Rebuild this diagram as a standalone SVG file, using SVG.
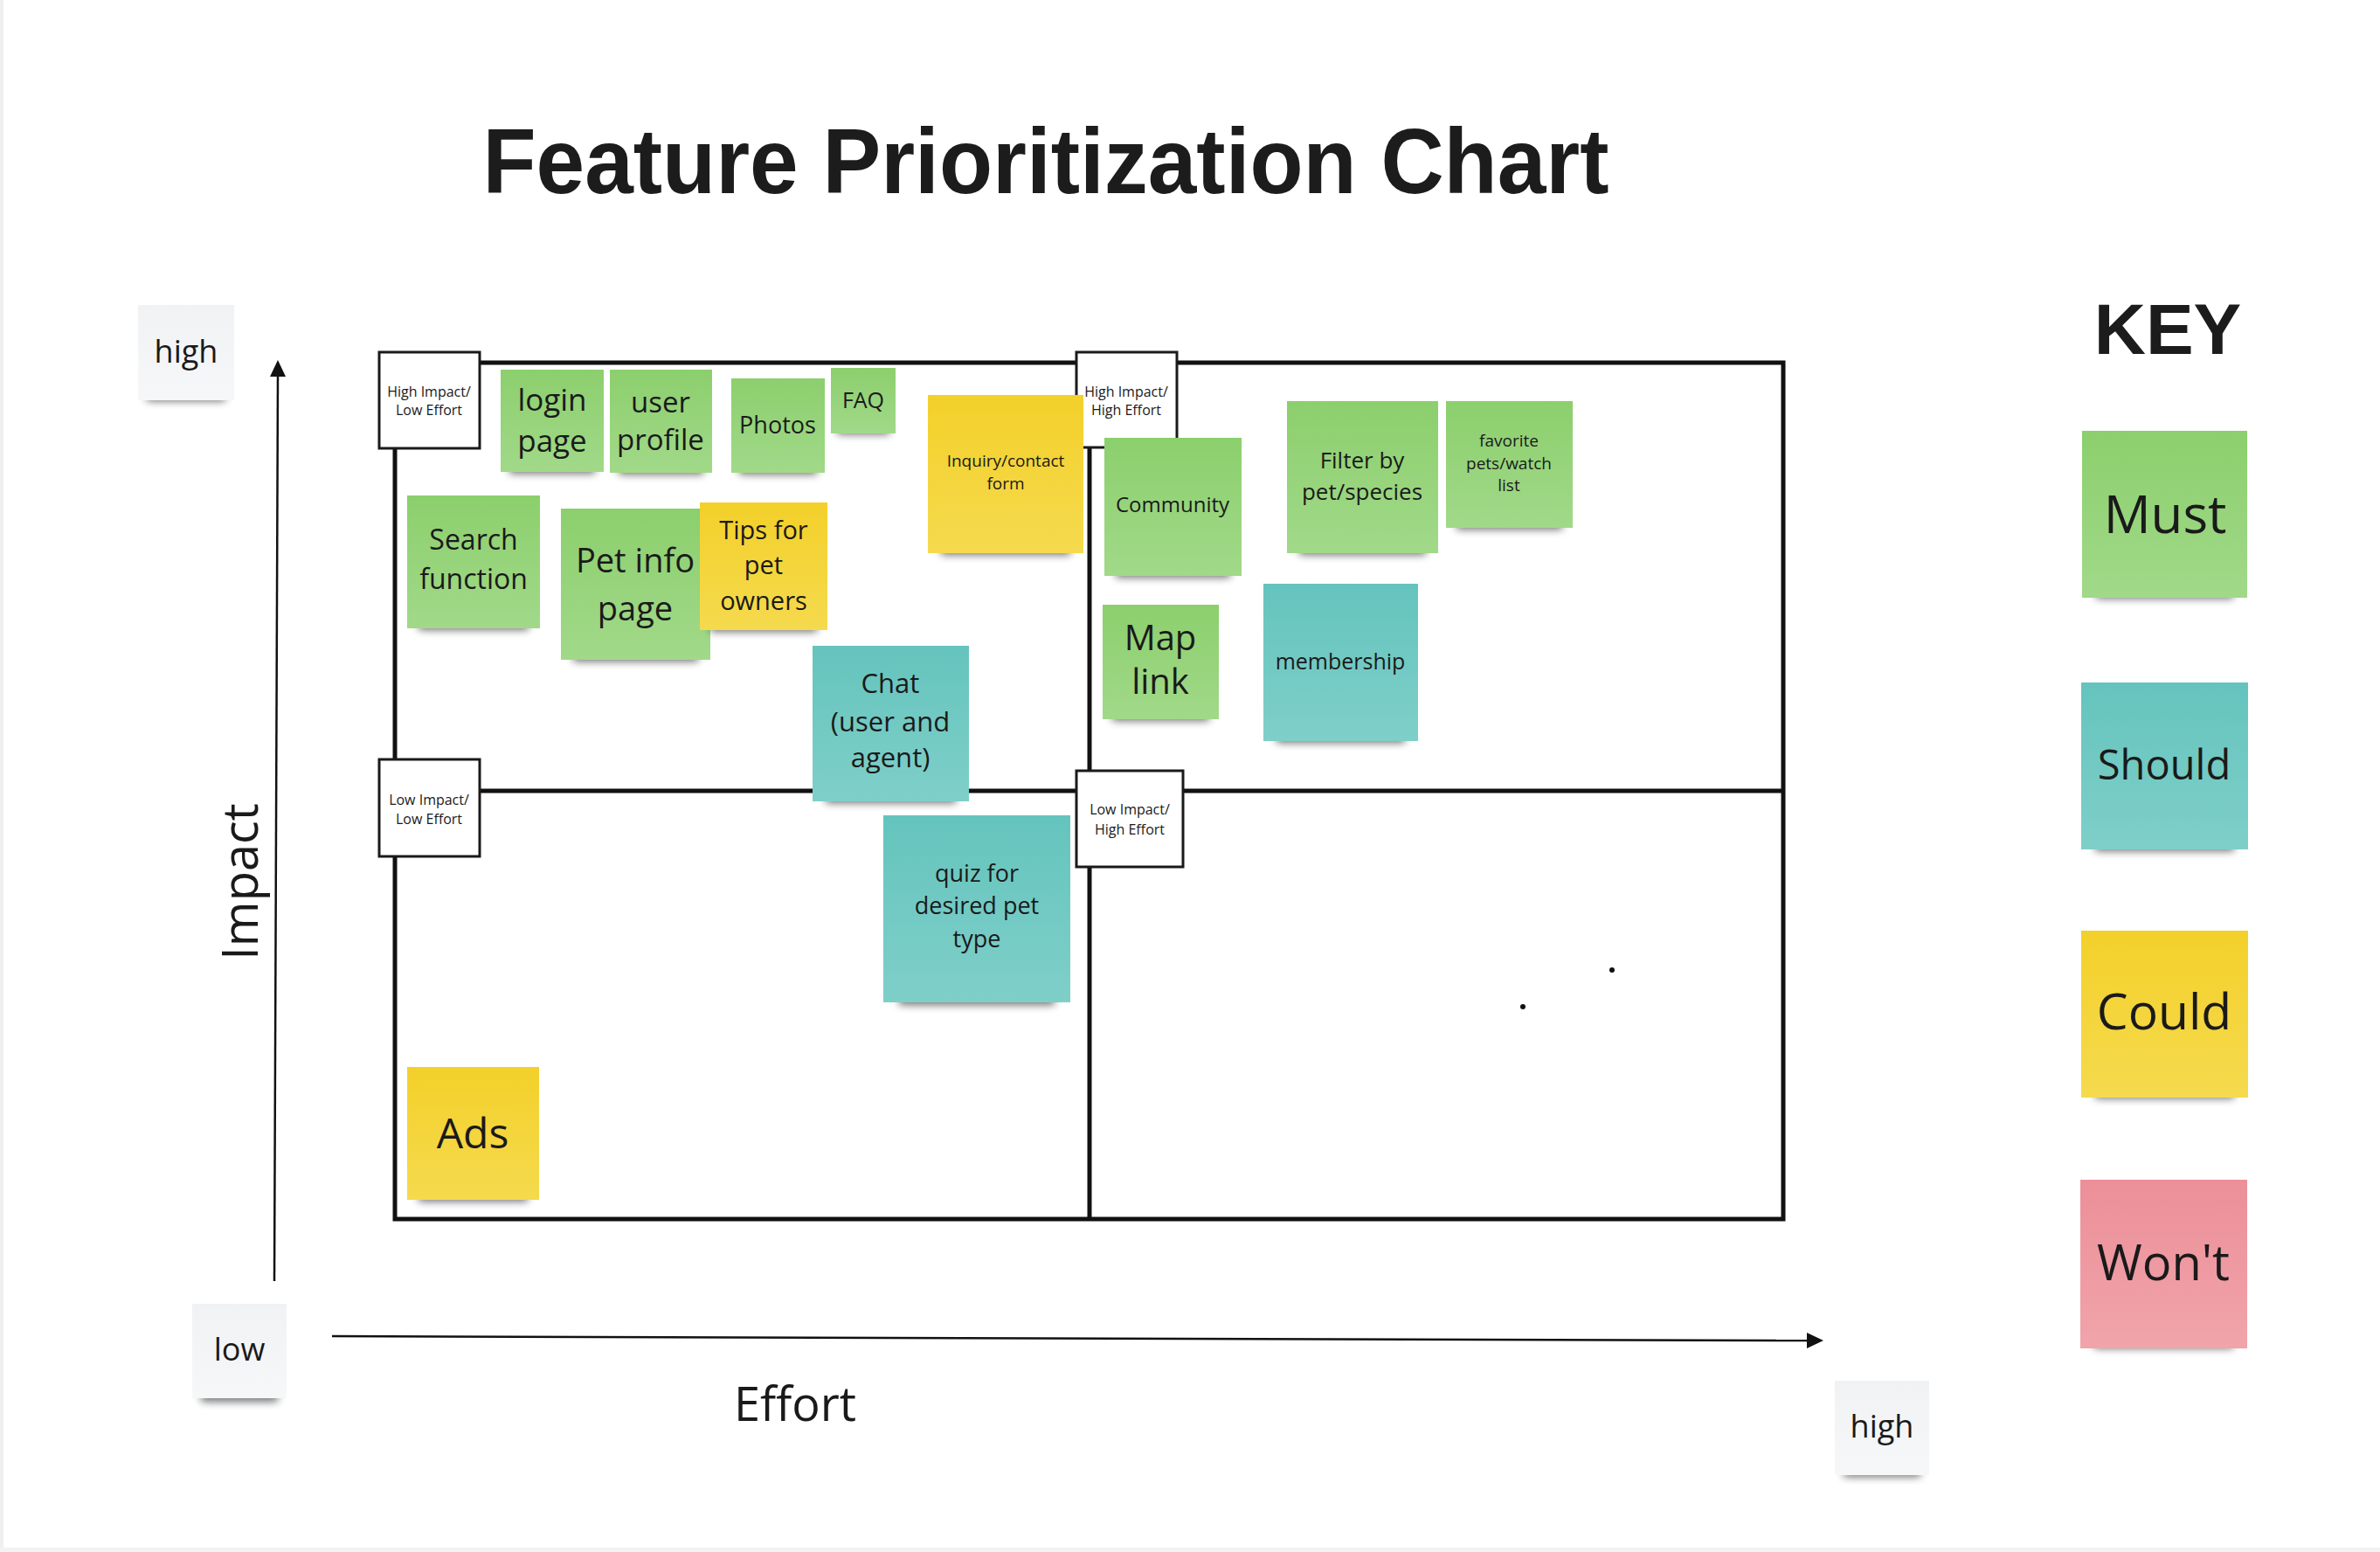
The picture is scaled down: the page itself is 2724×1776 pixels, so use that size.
<svg xmlns="http://www.w3.org/2000/svg" width="2724" height="1776" viewBox="0 0 2724 1776">
<defs>
<linearGradient id="gGreen" x1="0" y1="0" x2="0" y2="1"><stop offset="0" stop-color="#8ccf6d"/><stop offset="1" stop-color="#a1d989"/></linearGradient>
<linearGradient id="gTeal" x1="0" y1="0" x2="0" y2="1"><stop offset="0" stop-color="#64c4bd"/><stop offset="1" stop-color="#7fcfc9"/></linearGradient>
<linearGradient id="gYellow" x1="0" y1="0" x2="0" y2="1"><stop offset="0" stop-color="#f3d02a"/><stop offset="1" stop-color="#f5da4e"/></linearGradient>
<linearGradient id="gPink" x1="0" y1="0" x2="0" y2="1"><stop offset="0" stop-color="#ec8f98"/><stop offset="1" stop-color="#f1a4ab"/></linearGradient>
<linearGradient id="gGrey" x1="0" y1="0" x2="0" y2="1"><stop offset="0" stop-color="#f1f2f4"/><stop offset="1" stop-color="#f6f7f8"/></linearGradient>
<filter id="blur" x="-20%" y="-100%" width="140%" height="300%"><feGaussianBlur stdDeviation="5"/></filter>
</defs>
<style>
.frame{fill:none;stroke:#111;stroke-width:5}
.qbox{fill:#fff;stroke:#1a1a1a;stroke-width:3}
.qt{font-family:"Open Sans","Liberation Sans",sans-serif;font-size:16px;fill:#1a1a1a;text-anchor:middle}
.nt{font-family:"Open Sans","Liberation Sans",sans-serif;fill:#1a1a1a;text-anchor:middle}
.sh{fill:#000;opacity:0.55;filter:url(#blur)}
.green{fill:url(#gGreen)}
.teal{fill:url(#gTeal)}
.yellow{fill:url(#gYellow)}
.pink{fill:url(#gPink)}
.grey{fill:url(#gGrey)}
.axis{stroke:#111;stroke-width:2.5;fill:none}
</style>
<rect x="0" y="0" width="2724" height="1776" fill="#fff"/>
<rect x="0" y="0" width="4" height="1776" fill="#efefef"/>
<rect x="0" y="1771" width="2724" height="5" fill="#f2f2f2"/>

<text id="title" x="1197" y="221" font-family="'Liberation Sans',Arial,sans-serif" font-weight="bold" font-size="106" fill="#1c1c1c" text-anchor="middle" textLength="1289" lengthAdjust="spacingAndGlyphs">Feature Prioritization Chart</text>
<text id="key-title" x="2481" y="405" font-family="'Liberation Sans',Arial,sans-serif" font-weight="bold" font-size="82" fill="#1c1c1c" text-anchor="middle">KEY</text>

<g id="chart-frame">
<rect class="frame" x="452" y="415" width="1589" height="980"/>
<line class="frame" x1="1247" y1="415" x2="1247" y2="1395"/>
<line class="frame" x1="452" y1="905" x2="2041" y2="905"/>
<circle cx="1845" cy="1110" r="3" fill="#111"/>
<circle cx="1743" cy="1152" r="3" fill="#111"/>
</g>

<g id="connectors">
<line class="axis" x1="314" y1="1466" x2="318" y2="428"/>
<polygon points="318,412 309,431 327,431" fill="#111"/>
<line class="axis" x1="380" y1="1529" x2="2070" y2="1534"/>
<polygon points="2087,1534 2068,1525 2068,1543" fill="#111"/>
</g>

<g id="axis-impact"><text class="nt" font-size="56" transform="translate(295,1009) rotate(-90)" x="0" y="0">Impact</text></g>
<g id="axis-effort"><text class="nt" font-size="54" x="910" y="1626">Effort</text></g>

<g id="label-high-impact">
<rect class="sh" x="168" y="447" width="90" height="12"/>
<rect class="grey" x="158" y="349" width="110" height="109"/>
<text class="nt" font-size="36" x="213" y="415">high</text>
</g>
<g id="label-low">
<rect class="sh" x="230" y="1592" width="88" height="12"/>
<rect class="grey" x="220" y="1492" width="108" height="108"/>
<text class="nt" font-size="36" x="274" y="1557">low</text>
</g>
<g id="label-high-effort">
<rect class="sh" x="2110" y="1678" width="88" height="12"/>
<rect class="grey" x="2100" y="1580" width="108" height="108"/>
<text class="nt" font-size="36" x="2154" y="1645">high</text>
</g>

<g id="q-hi-le">
<rect class="qbox" x="434" y="403" width="115" height="110"/>
<text class="qt" x="491" y="454">High Impact/</text>
<text class="qt" x="491" y="475">Low Effort</text>
</g>
<g id="q-hi-he">
<rect class="qbox" x="1232" y="403" width="115" height="109"/>
<text class="qt" x="1289" y="454">High Impact/</text>
<text class="qt" x="1289" y="475">High Effort</text>
</g>
<g id="q-li-le">
<rect class="qbox" x="434" y="869" width="115" height="111"/>
<text class="qt" x="491" y="921">Low Impact/</text>
<text class="qt" x="491" y="943">Low Effort</text>
</g>
<g id="q-li-he">
<rect class="qbox" x="1232" y="882" width="122" height="110"/>
<text class="qt" x="1293" y="932">Low Impact/</text>
<text class="qt" x="1293" y="955">High Effort</text>
</g>

<g id="note-login">
<rect class="sh" x="583" y="528" width="98" height="14"/>
<rect class="green" x="573" y="423" width="118" height="117"/>
<text class="nt" font-size="35" x="632" y="470">login</text>
<text class="nt" font-size="35" x="632" y="517">page</text>
</g>
<g id="note-user-profile">
<rect class="sh" x="708" y="529" width="97" height="14"/>
<rect class="green" x="698" y="423" width="117" height="118"/>
<text class="nt" font-size="33" x="756" y="472">user</text>
<text class="nt" font-size="33" x="756" y="515">profile</text>
</g>
<g id="note-photos">
<rect class="sh" x="846" y="529" width="89" height="14"/>
<rect class="green" x="837" y="433" width="107" height="108"/>
<text class="nt" font-size="27" x="890" y="496">Photos</text>
</g>
<g id="note-faq">
<rect class="sh" x="958" y="485" width="60" height="12"/>
<rect class="green" x="951" y="421" width="74" height="75"/>
<text class="nt" font-size="25" x="988" y="467">FAQ</text>
</g>
<g id="note-inquiry">
<rect class="sh" x="1077" y="620" width="148" height="15"/>
<rect class="yellow" x="1062" y="452" width="178" height="181"/>
<text class="nt" font-size="19" x="1151" y="534">Inquiry/contact</text>
<text class="nt" font-size="19" x="1151" y="560">form</text>
</g>
<g id="note-search">
<rect class="sh" x="479" y="706" width="126" height="15"/>
<rect class="green" x="466" y="567" width="152" height="152"/>
<text class="nt" font-size="32" x="542" y="629">Search</text>
<text class="nt" font-size="32" x="542" y="674">function</text>
</g>
<g id="note-pet-info">
<rect class="sh" x="656" y="742" width="143" height="15"/>
<rect class="green" x="642" y="582" width="171" height="173"/>
<text class="nt" font-size="38" x="727" y="655">Pet info</text>
<text class="nt" font-size="38" x="727" y="710">page</text>
</g>
<g id="note-tips">
<rect class="sh" x="813" y="708" width="122" height="15"/>
<rect class="yellow" x="801" y="575" width="146" height="146"/>
<text class="nt" font-size="29" x="874" y="617">Tips for</text>
<text class="nt" font-size="29" x="874" y="657">pet</text>
<text class="nt" font-size="29" x="874" y="698">owners</text>
</g>
<g id="note-chat">
<rect class="sh" x="945" y="904" width="149" height="15"/>
<rect class="teal" x="930" y="739" width="179" height="178"/>
<text class="nt" font-size="31" x="1019" y="793">Chat</text>
<text class="nt" font-size="31" x="1019" y="837">(user and</text>
<text class="nt" font-size="31" x="1019" y="878">agent)</text>
</g>
<g id="note-quiz">
<rect class="sh" x="1029" y="1134" width="178" height="16"/>
<rect class="teal" x="1011" y="933" width="214" height="214"/>
<text class="nt" font-size="27" x="1118" y="1009">quiz for</text>
<text class="nt" font-size="27" x="1118" y="1046">desired pet</text>
<text class="nt" font-size="27" x="1118" y="1084">type</text>
</g>
<g id="note-ads">
<rect class="sh" x="479" y="1360" width="125" height="15"/>
<rect class="yellow" x="466" y="1221" width="151" height="152"/>
<text class="nt" font-size="48" x="541" y="1314">Ads</text>
</g>
<g id="note-community">
<rect class="sh" x="1277" y="646" width="131" height="15"/>
<rect class="green" x="1264" y="501" width="157" height="158"/>
<text class="nt" font-size="24" x="1342" y="586">Community</text>
</g>
<g id="note-filter">
<rect class="sh" x="1487" y="620" width="145" height="15"/>
<rect class="green" x="1473" y="459" width="173" height="174"/>
<text class="nt" font-size="26" x="1559" y="536">Filter by</text>
<text class="nt" font-size="26" x="1559" y="572">pet/species</text>
</g>
<g id="note-favorite">
<rect class="sh" x="1667" y="591" width="121" height="15"/>
<rect class="green" x="1655" y="459" width="145" height="145"/>
<text class="nt" font-size="19" x="1727" y="511">favorite</text>
<text class="nt" font-size="19" x="1727" y="537">pets/watch</text>
<text class="nt" font-size="19" x="1727" y="562">list</text>
</g>
<g id="note-map">
<rect class="sh" x="1273" y="810" width="111" height="15"/>
<rect class="green" x="1262" y="692" width="133" height="131"/>
<text class="nt" font-size="40" x="1328" y="744">Map</text>
<text class="nt" font-size="40" x="1328" y="794">link</text>
</g>
<g id="note-membership">
<rect class="sh" x="1461" y="835" width="147" height="15"/>
<rect class="teal" x="1446" y="668" width="177" height="180"/>
<text class="nt" font-size="25" x="1534" y="766">membership</text>
</g>

<g id="key-must">
<rect class="sh" x="2399" y="671" width="157" height="14"/>
<rect class="green" x="2383" y="493" width="189" height="191"/>
<text class="nt" font-size="60" x="2478" y="610">Must</text>
</g>
<g id="key-should">
<rect class="sh" x="2398" y="960" width="159" height="14"/>
<rect class="teal" x="2382" y="781" width="191" height="191"/>
<text class="nt" font-size="47" x="2477" y="892">Should</text>
</g>
<g id="key-could">
<rect class="sh" x="2398" y="1243" width="159" height="14"/>
<rect class="yellow" x="2382" y="1065" width="191" height="191"/>
<text class="nt" font-size="57" x="2477" y="1178">Could</text>
</g>
<g id="key-wont">
<rect class="sh" x="2397" y="1529" width="159" height="14"/>
<rect class="pink" x="2381" y="1350" width="191" height="193"/>
<text class="nt" font-size="56" x="2476" y="1465">Won't</text>
</g>
</svg>
